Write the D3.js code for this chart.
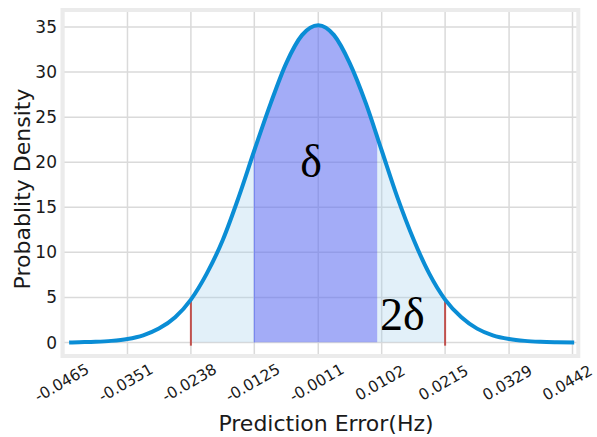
<!DOCTYPE html>
<html>
<head>
<meta charset="utf-8">
<script src="https://cdn.jsdelivr.net/npm/d3@7"></script>
<style>
  body { margin: 0; background: #fff; }
  text { font-family: "DejaVu Sans", sans-serif; fill: #1a1a1a; }
</style>
</head>
<body>
<svg id="chart" width="597" height="437"></svg>
<script>
// tick labels on the x axis (mean +/- k sigma)
const xTicks = [-0.0465, -0.0351, -0.0238, -0.0125, -0.0011, 0.0102, 0.0215, 0.0329, 0.0442]
const yTicks = [0, 5, 10, 15, 20, 25, 30, 35]

// density curve
const errX = [-0.0455, -0.0437, -0.0408, -0.0380, -0.0351, -0.0323, -0.0295, -0.0266, -0.0238,
  -0.0210, -0.0181, -0.0153, -0.0125, -0.0096, -0.0068, -0.0040, -0.0011,
  0.0017, 0.0045, 0.0074, 0.0102, 0.0130, 0.0159, 0.0187, 0.0215,
  0.0244, 0.0272, 0.0300, 0.0329, 0.0357, 0.0385, 0.0414, 0.0445]
const density = [0.0, 0.03, 0.08, 0.18, 0.39, 0.80, 1.54, 2.80, 4.76,
  7.61, 11.4, 16.1, 21.3, 26.5, 31.0, 34.1, 35.2,
  34.1, 31.0, 26.5, 21.3, 16.1, 11.4, 7.61, 4.76,
  2.80, 1.54, 0.80, 0.39, 0.18, 0.08, 0.03, 0.0]

// shaded bands
const band2 = [-0.0238, 0.0215]   // 2 delta
const band1 = [-0.0125, 0.0094]   // delta

const svg = d3.select('#chart')

const x = d3.scaleLinear().domain([-0.0465, 0.0442]).range([63.5, 572.5])
const y = d3.scaleLinear().domain([0, 35]).range([342.5, 27])

const frame = { left: 62.5, right: 578.3, top: 10, bottom: 356 }

const pts = errX.map((d, i) => [d, density[i]])

// grid
const grid = svg.append('g')
grid.selectAll('.gx').data(xTicks).join('line')
  .attr('x1', d => x(d)).attr('x2', d => x(d))
  .attr('y1', frame.top).attr('y2', frame.bottom)
  .attr('stroke', '#dadada').attr('stroke-width', 1.5)
grid.selectAll('.gy').data(yTicks).join('line')
  .attr('x1', frame.left).attr('x2', frame.right)
  .attr('y1', d => y(d)).attr('y2', d => y(d))
  .attr('stroke', '#dadada').attr('stroke-width', 1.5)

// clip paths for the bands
const defs = svg.append('defs')
function clip (id, ranges) {
  const c = defs.append('clipPath').attr('id', id)
  ranges.forEach(r => {
    c.append('rect')
      .attr('x', x(r[0])).attr('y', 0)
      .attr('width', x(r[1]) - x(r[0])).attr('height', y(0))
  })
}
clip('c2', [[band2[0], band1[0]], [band1[1], band2[1]]])
clip('c1', [band1])

const area = d3.area()
  .x(d => x(d[0]))
  .y0(y(0))
  .y1(d => y(d[1]))
  .curve(d3.curveMonotoneX)

svg.append('path').datum(pts)
  .attr('d', area)
  .attr('clip-path', 'url(#c2)')
  .attr('fill', 'rgb(160,205,235)')
  .attr('fill-opacity', 0.3)

svg.append('path').datum(pts)
  .attr('d', area)
  .attr('clip-path', 'url(#c1)')
  .attr('fill', 'rgb(94,109,241)')
  .attr('fill-opacity', 0.57)

svg.append('line')
  .attr('x1', x(band1[0])).attr('x2', x(band1[0]))
  .attr('y1', y(0)).attr('y2', y(21.3))
  .attr('stroke', '#6f7ff0').attr('stroke-width', 1)

// red markers at +/- 2 delta
svg.selectAll('.mark').data(band2).join('line')
  .attr('x1', d => x(d)).attr('x2', d => x(d))
  .attr('y1', y(-0.35)).attr('y2', y(4.76))
  .attr('stroke', '#c0504d').attr('stroke-width', 2)

// curve
svg.append('path').datum(pts)
  .attr('d', d3.line().x(d => x(d[0])).y(d => y(d[1])).curve(d3.curveMonotoneX))
  .attr('fill', 'none')
  .attr('stroke', '#0a8dd5')
  .attr('stroke-width', 4)

// frame
svg.append('rect')
  .attr('x', frame.left).attr('y', frame.top)
  .attr('width', frame.right - frame.left).attr('height', frame.bottom - frame.top)
  .attr('fill', 'none')
  .attr('stroke', '#ebebeb')
  .attr('stroke-width', 4)

// tick labels
svg.selectAll('.yt').data(yTicks).join('text')
  .attr('x', 57).attr('y', d => y(d))
  .attr('text-anchor', 'end')
  .attr('dominant-baseline', 'central')
  .attr('font-size', '17px')
  .text(d => d)

// last label sits against the right edge, nudge it in a little
svg.selectAll('.xt').data(xTicks).join('text')
  .attr('transform', (d, i) => 'translate(' + (x(d) - (i === xTicks.length - 1 ? 5 : 1.5)) + ',383) rotate(-30)')
  .attr('text-anchor', 'middle')
  .attr('dominant-baseline', 'central')
  .attr('font-size', '15.5px')
  .text(d => d.toFixed(4))

// axis titles
svg.append('text')
  .attr('x', 326).attr('y', 431)
  .attr('text-anchor', 'middle')
  .attr('font-size', '22px')
  .text('Prediction Error(Hz)')

svg.append('text')
  .attr('transform', 'translate(30,189) rotate(-90)')
  .attr('text-anchor', 'middle')
  .attr('font-size', '22px')
  .text('Probablity Density')

// delta labels
svg.append('text')
  .attr('x', 311).attr('y', 177)
  .attr('text-anchor', 'middle')
  .attr('font-size', '46px')
  .style('font-family', '"Liberation Serif", "DejaVu Serif", serif')
  .style('fill', '#000')
  .text('δ')

svg.append('text')
  .attr('x', 380).attr('y', 330)
  .attr('font-size', '46px')
  .style('font-family', '"Liberation Serif", "DejaVu Serif", serif')
  .style('fill', '#000')
  .text('2δ')
</script>
</body>
</html>
